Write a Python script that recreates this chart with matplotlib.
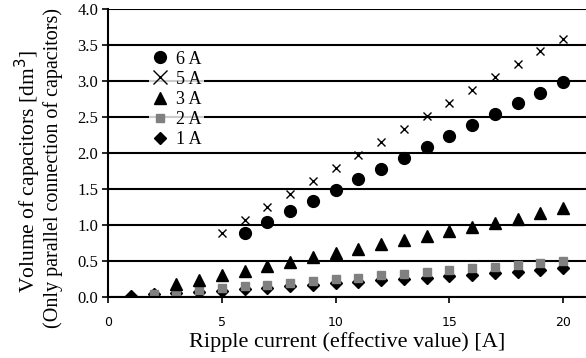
import matplotlib
matplotlib.use("Agg")
import matplotlib.pyplot as plt

# data
x_6a = list(range(6, 21))
v_6a = [0.89, 1.04, 1.19, 1.34, 1.49, 1.64, 1.78, 1.93, 2.09, 2.24, 2.39, 2.54, 2.69, 2.84, 2.99]
x_5a = list(range(5, 21))
v_5a = [0.89, 1.07, 1.25, 1.43, 1.61, 1.79, 1.97, 2.15, 2.33, 2.51, 2.69, 2.87, 3.05, 3.23, 3.41, 3.59]
x_3a = list(range(3, 21))
v_3a = [0.18, 0.24, 0.30, 0.36, 0.43, 0.49, 0.55, 0.61, 0.67, 0.73, 0.79, 0.85, 0.91, 0.97,
        1.03, 1.09, 1.16, 1.23]
x_2a = list(range(2, 21))
v_2a = [0.04, 0.07, 0.10, 0.12, 0.15, 0.17, 0.20, 0.22, 0.25, 0.27, 0.30, 0.32, 0.35, 0.37,
        0.40, 0.42, 0.45, 0.47, 0.50]
x_1a = list(range(1, 21))
v_1a = [0.02, 0.04, 0.05, 0.07, 0.09, 0.11, 0.13, 0.15, 0.17, 0.19, 0.21, 0.23, 0.25, 0.27,
        0.29, 0.31, 0.33, 0.35, 0.37, 0.40]

serif = 'Liberation Serif'

fig = plt.figure(figsize=(5.86, 3.58), dpi=100)
ax = fig.add_axes([108/586, 1-297/358, 478/586, 288/358])

h1, = ax.plot(x_1a, v_1a, 'D', color='black', ms=6.5, ls='none', label='1 A')
h2, = ax.plot(x_2a, v_2a, 's', color='#808080', ms=6, ls='none', label='2 A')
h3, = ax.plot(x_3a, v_3a, '^', color='black', ms=8.5, ls='none', label='3 A')
h5, = ax.plot(x_5a, v_5a, 'x', color='black', ms=6, mew=1.0, ls='none', label='5 A')
h6, = ax.plot(x_6a, v_6a, 'o', color='black', ms=8.5, ls='none', label='6 A')

ax.set_xlim(0, 21)
ax.set_ylim(0, 4.0)
ax.set_yticks([0.5*i for i in range(9)])
ax.set_yticklabels(['%.1f' % (0.5*i) for i in range(9)], fontfamily=serif, fontsize=12)
ax.set_xticks([0, 5, 10, 15, 20])
ax.set_xticklabels(['0', '5', '10', '15', '20'], fontfamily='DejaVu Sans', fontsize=9)
ax.grid(axis='y', color='black', lw=1.5)
ax.set_axisbelow(True)
for s in ['top', 'right']:
    ax.spines[s].set_visible(False)
ax.spines['left'].set_linewidth(1.5)
ax.spines['bottom'].set_linewidth(1.5)
ax.tick_params(axis='y', direction='out', length=4, width=1.2, color='black', pad=3)
ax.tick_params(axis='x', direction='out', length=4.3, width=1.2, color='black', pad=9.5)

ax.set_xlabel('Ripple current (effective value) [A]', fontfamily=serif, fontsize=16, labelpad=2)
fig.text(0.047, 0.52, 'Volume of capacitors [dm$^3$]', rotation=90, ha='center', va='center',
         fontfamily=serif, fontsize=15.5)
fig.text(0.090, 0.53, '(Only parallel connection of capacitors)', rotation=90, ha='center',
         va='center', fontfamily=serif, fontsize=14.5)

leg = ax.legend([h6, h5, h3, h2, h1], ['6 A', '5 A', '3 A', '2 A', '1 A'],
                loc='upper left', bbox_to_anchor=(0.085, 0.865), frameon=True,
                prop={'family': serif, 'size': 13}, handletextpad=0.35, handlelength=1.0,
                labelspacing=0.175, borderpad=0.15, borderaxespad=0, fancybox=False)
leg.get_frame().set_facecolor('white')
leg.get_frame().set_edgecolor('none')
leg.legend_handles[1].set_markersize(10)

fig.savefig('out.png', dpi=100)
